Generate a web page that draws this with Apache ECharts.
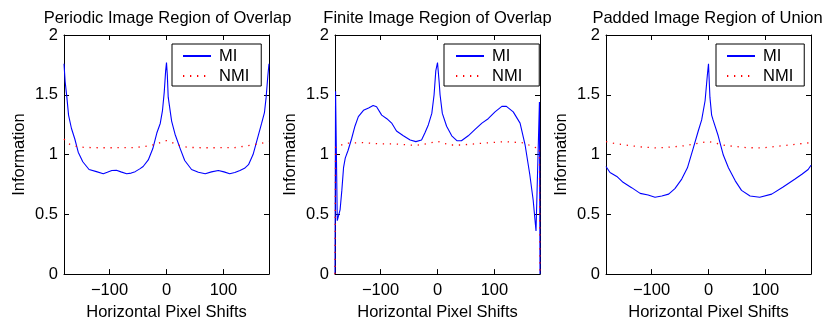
<!DOCTYPE html>
<html><head><meta charset="utf-8">
<script src="https://cdn.jsdelivr.net/npm/echarts@6/dist/echarts.min.js"></script>
<style>html,body{margin:0;padding:0;background:#fff}#c{width:826px;height:326px}</style>
</head><body><div id="c"></div>
<script>
// ---------- data ----------
const panelTitles = ['Periodic Image Region of Overlap', 'Finite Image Region of Overlap', 'Padded Image Region of Union'];
const seriesNames = ['MI', 'NMI'];
const xAxisName = 'Horizontal Pixel Shifts';
const yAxisName = 'Information';
const xMin = -180, xMax = 180;
const yMin = 0, yMax = 2, yStep = 0.5;

// Panel 1: periodic
const periodicMiX = [-180,-178,-175,-172,-167,-161,-155,-147,-136,-123,-111,-104,-96,-88,-80,-70,-62,-55,-47,-41,-32,-24,-17,-11,-7,-4,-1.5,0,1.5,3,9,15,24,32,44,56,68,79,91,101,111,120,129,137,144,152,161,167,172,175,178,180];
const periodicMiY = [1.76,1.61,1.48,1.33,1.22,1.13,1.02,0.94,0.875,0.857,0.84,0.852,0.867,0.868,0.855,0.84,0.845,0.857,0.88,0.90,0.955,1.05,1.18,1.26,1.37,1.52,1.70,1.77,1.66,1.48,1.28,1.17,1.05,0.95,0.875,0.852,0.84,0.855,0.867,0.855,0.84,0.85,0.867,0.885,0.915,1.0,1.157,1.26,1.35,1.48,1.66,1.76];
const periodicNmiX = [-180,-172,-158,-145,-120,-90,-60,-40,-28,-17,-8,0,8,17,28,40,60,90,120,146,160,170,180];
const periodicNmiY = [1.13,1.09,1.068,1.06,1.057,1.057,1.058,1.066,1.075,1.09,1.105,1.117,1.105,1.085,1.068,1.06,1.057,1.057,1.058,1.076,1.088,1.098,1.11];

// Panel 2: finite
const finiteMiX = [-180,-179,-176,-171,-168,-165,-162,-157,-151,-145,-139,-130,-121,-113,-107,-98,-89,-80,-72,-60,-48,-38,-28,-22,-16,-10,-6,-3,0,3,4.5,8.5,16,25,34,42,54,66,78,89,101,113,121,133,145,154,162,168,173,179,180];
const finiteMiY = [0,1.53,0.447,0.54,0.70,0.89,0.97,1.036,1.13,1.237,1.317,1.37,1.39,1.41,1.40,1.33,1.30,1.26,1.197,1.157,1.122,1.108,1.122,1.183,1.25,1.344,1.50,1.70,1.77,1.60,1.50,1.344,1.237,1.157,1.116,1.116,1.157,1.21,1.263,1.30,1.357,1.403,1.403,1.357,1.263,1.076,0.835,0.62,0.36,1.44,0];
const finiteNmiX = [-180,-179,-160,-133,-104,-78,-51,-38,-19,0,22,42,80,118,151,171,179,180];
const finiteNmiY = [0,1.063,1.095,1.10,1.09,1.09,1.08,1.076,1.09,1.11,1.08,1.08,1.095,1.108,1.098,1.06,1.055,0];

// Panel 3: padded
const paddedMiX = [-180,-173,-161,-150,-135,-120,-106,-94,-82,-70,-59,-47,-37,-27,-18,-12,-6,-2,0,2.5,5.5,8,17,26,35,47,58,73,90,111,131,152,164,175,180];
const paddedMiY = [0.90,0.85,0.817,0.768,0.723,0.675,0.661,0.643,0.653,0.669,0.715,0.795,0.889,1.05,1.197,1.29,1.45,1.665,1.76,1.48,1.33,1.29,1.157,0.996,0.889,0.78,0.70,0.653,0.643,0.669,0.728,0.795,0.835,0.875,0.91];
const paddedNmiX = [-180,-167,-141,-117,-91,-65,-38,-15,0,29,67,93,134,170,180];
const paddedNmiY = [1.108,1.095,1.076,1.063,1.055,1.063,1.076,1.098,1.11,1.076,1.058,1.055,1.076,1.095,1.10];

// ---------- build ----------
const zip = (xs, ys) => xs.map((x, i) => [x, ys[i]]);
const panels = [
  { mi: zip(periodicMiX, periodicMiY), nmi: zip(periodicNmiX, periodicNmiY) },
  { mi: zip(finiteMiX, finiteMiY), nmi: zip(finiteNmiX, finiteNmiY) },
  { mi: zip(paddedMiX, paddedMiY), nmi: zip(paddedNmiX, paddedNmiY) }
];

const FONT = '"Liberation Sans", Arial, Helvetica, sans-serif';
const FS = 16.5;
const gridLefts = [64, 335, 606];
const GW = 205, GT = 35, GH = 249;
const titleCenters = [167.5, 437.5, 707.5];
const legendPos = [
  { left: 172, top: 44, pad: [2, 12, 0, 10] },
  { left: 444, top: 44, pad: [2, 17, 0, 11] },
  { left: 716, top: 44, pad: [2, 11, 0, 10] }
];
const fmtX = v => v < 0 ? '\u2212' + (-v) : String(v);
const tickInside = { show: true, inside: true, length: 5, lineStyle: { color: '#000', width: 1 } };
const axLine = { show: true, onZero: false, lineStyle: { color: '#000', width: 1 } };

const grid = [], xAxis = [], yAxis = [], series = [], title = [], legend = [];
panels.forEach((p, i) => {
  grid.push({ left: gridLefts[i], top: GT, width: GW, height: GH });
  title.push({
    text: panelTitles[i], left: titleCenters[i], top: 10, textAlign: 'center', padding: 0,
    textStyle: { fontFamily: FONT, fontSize: FS, fontWeight: 'normal', color: '#000' }
  });
  xAxis.push({
    type: 'value', gridIndex: i, min: xMin, max: xMax, position: 'bottom',
    axisLine: axLine, axisTick: tickInside, splitLine: { show: false },
    axisLabel: { formatter: fmtX, showMinLabel: false, showMaxLabel: false, margin: 8,
      fontFamily: FONT, fontSize: FS, color: '#000' },
    name: xAxisName, nameLocation: 'middle', nameGap: 25,
    nameTextStyle: { fontFamily: FONT, fontSize: FS, color: '#000' }
  });
  xAxis.push({
    type: 'value', gridIndex: i, min: xMin, max: xMax, position: 'top',
    axisLine: axLine, axisTick: tickInside, splitLine: { show: false },
    axisLabel: { show: false }
  });
  yAxis.push({
    type: 'value', gridIndex: i, min: yMin, max: yMax, interval: yStep, position: 'left',
    axisLine: axLine, axisTick: tickInside, splitLine: { show: false },
    axisLabel: { margin: 6, fontFamily: FONT, fontSize: FS, color: '#000' },
    name: yAxisName, nameLocation: 'middle', nameGap: 36,
    nameTextStyle: { fontFamily: FONT, fontSize: FS, color: '#000' }
  });
  yAxis.push({
    type: 'value', gridIndex: i, min: yMin, max: yMax, interval: yStep, position: 'right',
    axisLine: axLine, axisTick: tickInside, splitLine: { show: false },
    axisLabel: { show: false }
  });
  series.push({
    name: seriesNames[0], type: 'line', xAxisIndex: 2 * i, yAxisIndex: 2 * i,
    data: p.mi, symbol: 'none', showSymbol: false, animation: false,
    lineStyle: { color: '#0000ff', width: 1.1 }, itemStyle: { color: '#0000ff' }
  });
  series.push({
    name: seriesNames[1], type: 'line', xAxisIndex: 2 * i, yAxisIndex: 2 * i,
    data: p.nmi, symbol: 'none', showSymbol: false, animation: false,
    lineStyle: { color: '#ff0000', width: 1.3, type: [1.3, 5.7] }, itemStyle: { color: '#ff0000' }
  });
  const lp = legendPos[i];
  legend.push({
    data: seriesNames, orient: 'vertical', left: lp.left, top: lp.top, padding: lp.pad,
    itemWidth: 28, itemHeight: 20, itemGap: 0, selectedMode: false,
    borderColor: '#000', borderWidth: 1, backgroundColor: '#fff', borderRadius: 0,
    itemStyle: { opacity: 0 },
    textStyle: { fontFamily: FONT, fontSize: FS, color: '#000', padding: [0, 0, 0, 3], lineHeight: 20 }
  });
});

const chart = echarts.init(document.getElementById('c'), null, { renderer: 'canvas' });
chart.setOption({ animation: false, backgroundColor: '#fff', title, grid, xAxis, yAxis, legend, series });
</script>
</body></html>
